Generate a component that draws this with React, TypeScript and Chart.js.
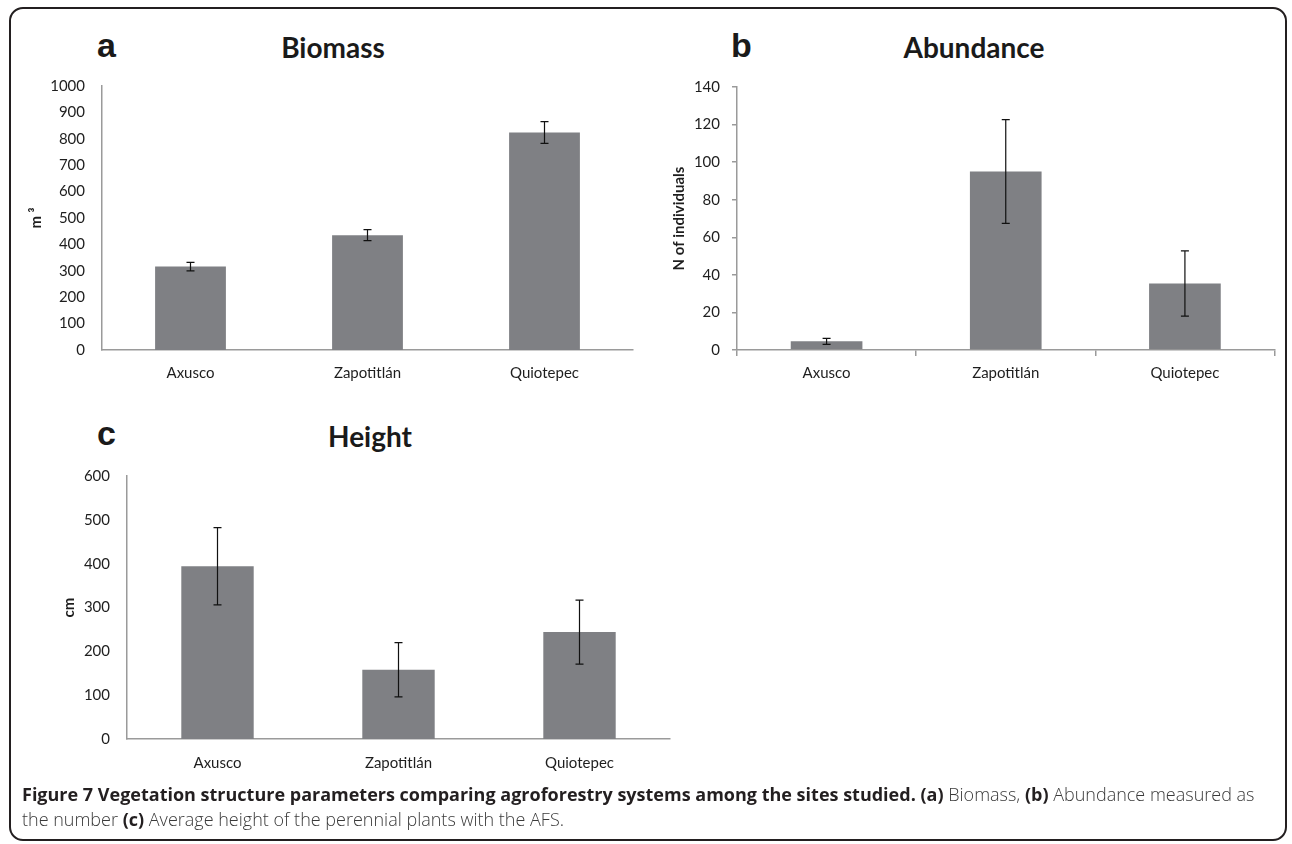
import React, { useEffect, useRef } from "react";
import { Chart, registerables } from "chart.js";

Chart.register(...registerables);

// ---------- data ----------
const categories = ["Axusco", "Zapotitlán", "Quiotepec"];

const biomassValues = [316, 435, 824];
const biomassErrors = [16, 21, 41];
const biomassAxis = { max: 1000, step: 100 };

const abundanceValues = [4.6, 95, 35.4];
const abundanceErrors = [1.6, 27.6, 17.4];
const abundanceAxis = { max: 140, step: 20 };

const heightValues = [394, 158, 244];
const heightErrors = [88, 62, 73];
const heightAxis = { max: 600, step: 100 };

// ---------- style ----------
const BAR = "#7f8084";
const AXIS = "#9a9a9a";
const TEXT = "#1e1e1e";
const FONT = "Lato, 'Open Sans', sans-serif";

const errorBarPlugin = {
  id: "errorBars",
  afterDatasetsDraw(chart: any) {
    const { ctx } = chart;
    const xs = chart.scales.x;
    const ys = chart.scales.y;
    chart.data.datasets.forEach((ds: any) => {
      const errs: number[] = ds.errors || [];
      ds.data.forEach((v: number, i: number) => {
        const e = errs[i];
        if (e == null) return;
        const x = xs.getPixelForValue(i);
        const yHi = ys.getPixelForValue(v + e);
        const yLo = ys.getPixelForValue(v - e);
        const cap = 4;
        ctx.save();
        ctx.strokeStyle = "#111";
        ctx.lineWidth = 1.2;
        ctx.beginPath();
        ctx.moveTo(x, yHi);
        ctx.lineTo(x, yLo);
        ctx.moveTo(x - cap, yHi);
        ctx.lineTo(x + cap, yHi);
        ctx.moveTo(x - cap, yLo);
        ctx.lineTo(x + cap, yLo);
        ctx.stroke();
        ctx.restore();
      });
    });
  },
};

type PanelProps = {
  left: number;
  top: number;
  width: number;
  height: number;
  values: number[];
  errors: number[];
  max: number;
  step: number;
  yTitle: string;
  yAxisW: number;
  xAxisH: number;
  padTop: number;
  padRight: number;
  titlePad: number;
  showTicks: boolean;
  xLabelPad: number;
  yLabelPad: number;
};

function Panel(p: PanelProps) {
  const ref = useRef<HTMLCanvasElement | null>(null);
  useEffect(() => {
    if (!ref.current) return;
    const chart = new Chart(ref.current, {
      type: "bar",
      data: {
        labels: categories,
        datasets: [
          {
            data: p.values,
            errors: p.errors,
            backgroundColor: BAR,
            borderWidth: 0,
            barPercentage: 0.4,
            categoryPercentage: 1,
          } as any,
        ],
      },
      options: {
        animation: false,
        responsive: false,
        maintainAspectRatio: false,
        layout: { padding: { top: p.padTop, right: p.padRight, left: 0, bottom: 0 } },
        plugins: {
          legend: { display: false },
          tooltip: { enabled: false },
          title: { display: false },
        },
        scales: {
          x: {
            grid: {
              display: p.showTicks,
              drawOnChartArea: false,
              drawTicks: p.showTicks,
              tickLength: 6,
              color: AXIS,
              lineWidth: 1.5,
              offset: true,
            },
            border: { display: true, color: AXIS, width: 1.5 },
            ticks: {
              padding: p.xLabelPad,
              color: TEXT,
              font: { family: FONT, size: 15 },
              maxRotation: 0,
            },
            afterFit: (s: any) => {
              s.height = p.xAxisH;
            },
          },
          y: {
            min: 0,
            max: p.max,
            ticks: {
              stepSize: p.step,
              padding: p.yLabelPad,
              color: TEXT,
              font: { family: FONT, size: 15 },
              callback: (v: any) => String(v),
            },
            grid: {
              display: p.showTicks,
              drawOnChartArea: false,
              drawTicks: p.showTicks,
              tickLength: 5,
              color: AXIS,
              lineWidth: 1.5,
            },
            border: { display: true, color: AXIS, width: 1.5 },
            title: {
              display: true,
              text: p.yTitle,
              color: TEXT,
              font: { family: FONT, size: 15, weight: "bold" },
              padding: { top: p.titlePad, bottom: 0 },
            },
            afterFit: (s: any) => {
              s.width = p.yAxisW;
            },
          },
        },
      } as any,
      plugins: [errorBarPlugin],
    });
    return () => chart.destroy();
  }, []);
  return (
    <canvas
      ref={ref}
      width={p.width}
      height={p.height}
      style={{ position: "absolute", left: p.left, top: p.top, width: p.width, height: p.height, display: "block" }}
    />
  );
}

const letterStyle: React.CSSProperties = {
  position: "absolute",
  fontFamily: "'Liberation Sans', Arial, sans-serif",
  fontWeight: 700,
  fontSize: 34,
  lineHeight: "34px",
  color: "#1a1a1a",
  transform: "translateY(-50%)",
};

const titleStyle: React.CSSProperties = {
  position: "absolute",
  fontFamily: FONT,
  fontWeight: 700,
  fontSize: 28,
  lineHeight: "30px",
  color: "#1a1a1a",
  transform: "translate(-50%, -50%)",
  whiteSpace: "nowrap",
};

const boldCap: React.CSSProperties = { fontWeight: 700, color: "#231f20" };

export default function App() {
  return (
    <div style={{ position: "absolute", left: 0, top: 0, width: 1292, height: 844, background: "#fff", overflow: "hidden" }}>
      <div
        style={{
          position: "absolute",
          left: 9,
          top: 7,
          width: 1278,
          height: 834,
          boxSizing: "border-box",
          border: "2px solid #231f20",
          borderRadius: 14,
        }}
      />
      {/* panel a */}
      <div style={{ ...letterStyle, left: 97, top: 45 }}>a</div>
      <div style={{ ...titleStyle, left: 333, top: 47 }}>Biomass</div>
      <Panel
        left={0}
        top={60}
        width={660}
        height={340}
        values={biomassValues}
        errors={biomassErrors}
        max={biomassAxis.max}
        step={biomassAxis.step}
        yTitle="m ³"
        yAxisW={102}
        xAxisH={50}
        padTop={26}
        padRight={27}
        titlePad={27}
        showTicks={false}
        xLabelPad={14}
        yLabelPad={17}
      />
      {/* panel b */}
      <div style={{ ...letterStyle, left: 731, top: 45 }}>b</div>
      <div style={{ ...titleStyle, left: 974, top: 47 }}>Abundance</div>
      <Panel
        left={655}
        top={60}
        width={630}
        height={340}
        values={abundanceValues}
        errors={abundanceErrors}
        max={abundanceAxis.max}
        step={abundanceAxis.step}
        yTitle="N of individuals"
        yAxisW={82}
        xAxisH={50}
        padTop={27}
        padRight={10.5}
        titlePad={15}
        showTicks={true}
        xLabelPad={8}
        yLabelPad={12}
      />
      {/* panel c */}
      <div style={{ ...letterStyle, left: 97, top: 433 }}>c</div>
      <div style={{ ...titleStyle, left: 370, top: 436 }}>Height</div>
      <Panel
        left={0}
        top={450}
        width={690}
        height={340}
        values={heightValues}
        errors={heightErrors}
        max={heightAxis.max}
        step={heightAxis.step}
        yTitle="cm"
        yAxisW={127}
        xAxisH={51}
        padTop={26}
        padRight={20}
        titlePad={60}
        showTicks={false}
        xLabelPad={15}
        yLabelPad={17}
      />
      {/* caption */}
      <div
        style={{
          position: "absolute",
          left: 22,
          top: 782,
          width: 1266,
          fontFamily: "'Open Sans', sans-serif",
          fontSize: 18,
          fontWeight: 300,
          lineHeight: "25px",
          color: "#3a3a3a",
          whiteSpace: "nowrap",
        }}
      >
        <span style={boldCap}>
          Figure 7 Vegetation structure parameters comparing agroforestry systems among the sites studied.
        </span>{" "}
        <span style={boldCap}>(a)</span> Biomass, <span style={boldCap}>(b)</span> Abundance measured as
        <br />
        the number <span style={boldCap}>(c)</span> Average height of the perennial plants with the AFS.
      </div>
    </div>
  );
}
